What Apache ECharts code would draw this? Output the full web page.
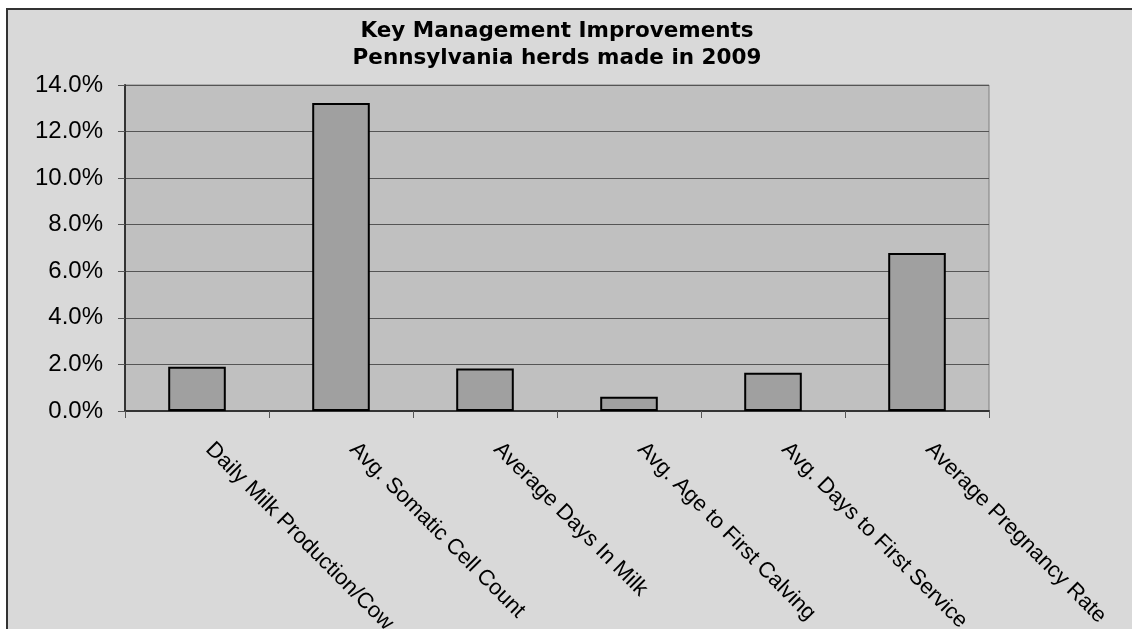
<!DOCTYPE html>
<html>
<head>
<meta charset="utf-8">
<script src="https://cdn.jsdelivr.net/npm/echarts@6/dist/echarts.min.js"></script>
<style>
html,body{margin:0;padding:0;background:#ffffff;overflow:hidden;}
#frame{position:absolute;left:6px;top:8px;width:1160px;height:660px;border-left:2px solid #333;border-top:2px solid #333;background:#d9d9d9;}
#chart{position:absolute;left:0;top:0;width:1132px;height:629px;}
</style>
</head>
<body>
<div id="frame"></div>
<div id="chart"></div>
<script>
var titleLines = ['Key Management Improvements', 'Pennsylvania herds made in 2009'];
var categories = ['Daily Milk Production/Cow', 'Avg. Somatic Cell Count', 'Average Days In Milk', 'Avg. Age to First Calving', 'Avg. Days to First Service', 'Average Pregnancy Rate'];
var improvements = [1.90, 13.23, 1.82, 0.61, 1.64, 6.79];
var yMin = 0, yMax = 14, yStep = 2;

var chart = echarts.init(document.getElementById('chart'));
var plotLeft = 125, plotRight = 989;
var cx = (plotLeft + plotRight) / 2;
chart.setOption({
  animation: false,
  graphic: [
    {type:'text', x: cx, y: 31, style:{text: titleLines[0], font:'bold 21.5px "DejaVu Sans", sans-serif', fill:'#000', align:'center', verticalAlign:'middle'}},
    {type:'text', x: cx, y: 58, style:{text: titleLines[1], font:'bold 21.5px "DejaVu Sans", sans-serif', fill:'#000', align:'center', verticalAlign:'middle'}}
  ],
  grid: {left: plotLeft, right: 1132 - plotRight, top: 85, bottom: 629 - 411, containLabel: false, outerBoundsMode: 'none', show: true, backgroundColor: '#c0c0c0', borderColor: '#808080', borderWidth: 1},
  xAxis: {
    type: 'category', data: categories,
    axisLine: {lineStyle: {color: '#333', width: 2}},
    axisTick: {show: true, length: 7, lineStyle: {color: '#555'}},
    axisLabel: {rotate: -45, margin: 23, padding: [0, 0, 0, 17], fontSize: 22, fontFamily: '"Liberation Sans", Arial, sans-serif', color: '#000', interval: 0}
  },
  yAxis: {
    type: 'value', min: yMin, max: yMax, interval: yStep,
    axisLine: {show: true, lineStyle: {color: '#333', width: 2}},
    axisTick: {show: true, length: 7, lineStyle: {color: '#555'}},
    splitLine: {lineStyle: {color: '#555', width: 1}},
    axisLabel: {margin: 22, fontSize: 24, fontFamily: '"Liberation Sans", Arial, sans-serif', color: '#000', formatter: function(v){return v.toFixed(1) + '%';}}
  },
  series: [{
    type: 'bar', data: improvements, barWidth: '40%',
    itemStyle: {color: '#a0a0a0', borderColor: '#000', borderWidth: 2}
  }]
});
</script>
</body>
</html>
